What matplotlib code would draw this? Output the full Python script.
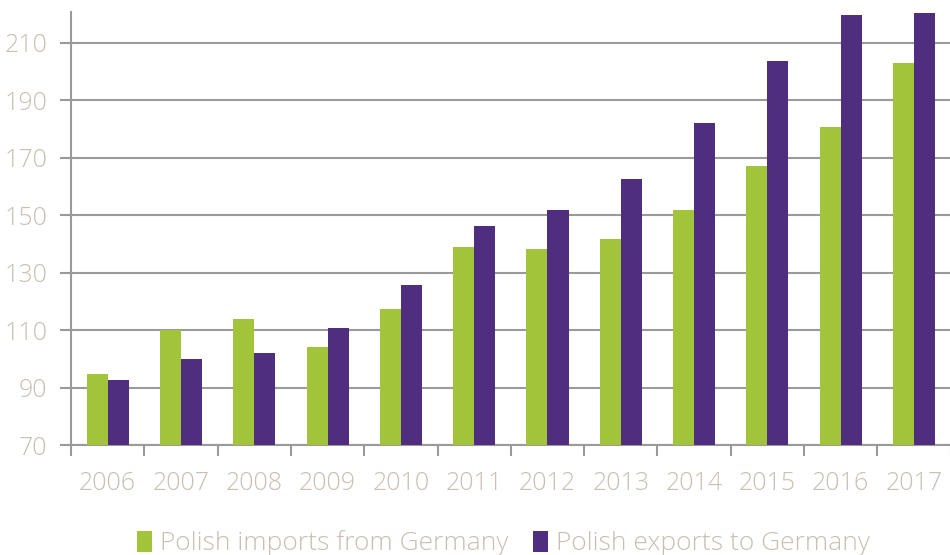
import numpy as np
import matplotlib.pyplot as plt

years = ['2006', '2007', '2008', '2009', '2010', '2011',
         '2012', '2013', '2014', '2015', '2016', '2017']
imports_de = [94.8, 110.0, 113.7, 104.3, 117.2, 138.8, 138.1, 141.7, 151.9, 167.0, 180.7, 203.1]
exports_de = [92.6, 99.9, 102.1, 110.7, 125.8, 146.2, 151.9, 162.6, 182.1, 203.7, 219.7, 220.4]
yticks = [70, 90, 110, 130, 150, 170, 190, 210]

green = '#A1C43A'
purple = '#4F2D7F'
txt = '#C9BFB2'
grid = '#9A9A9A'

plt.rcParams['font.family'] = ['Open Sans', 'DejaVu Sans']
plt.rcParams['font.weight'] = 'light'

fig = plt.figure(figsize=(9.5, 5.55), dpi=100)
ax = fig.add_axes([0.0747, 0.198, 0.926, 0.780])

x = np.arange(len(years))
w = 0.287
ax.bar(x - w/2, imports_de, w, color=green, label='Polish imports from Germany', zorder=3)
ax.bar(x + w/2, exports_de, w, color=purple, label='Polish exports to Germany', zorder=3)

ax.set_ylim(70, 220.6)
ax.set_xlim(-0.5, len(years) - 0.5)
ax.set_yticks(yticks)
ax.yaxis.grid(True, color=grid, linewidth=1.5, zorder=0)

# boundaries as major ticks, year labels on minor ticks
ax.set_xticks(np.arange(len(years) + 1) - 0.5)
ax.set_xticklabels([])
ax.set_xticks(x, minor=True)
ax.set_xticklabels(years, minor=True)
ax.tick_params(axis='x', which='major', length=8, width=1.5, color=grid)
ax.tick_params(axis='x', which='minor', length=0, pad=19, labelsize=18, labelcolor=txt)
ax.tick_params(axis='y', length=8, width=1.5, color=grid, pad=9, labelsize=18, labelcolor=txt)

for s in ['top', 'right']:
    ax.spines[s].set_visible(False)
for s in ['left', 'bottom']:
    ax.spines[s].set_color(grid)
    ax.spines[s].set_linewidth(1.5)

leg = fig.legend(loc='lower center', bbox_to_anchor=(0.53, -0.045), ncol=2, frameon=False,
                 fontsize=19, handlelength=0.6, handleheight=0.85, handletextpad=0.3,
                 columnspacing=0.9)
for t in leg.get_texts():
    t.set_color(txt)

fig.savefig('out.png', dpi=100)
